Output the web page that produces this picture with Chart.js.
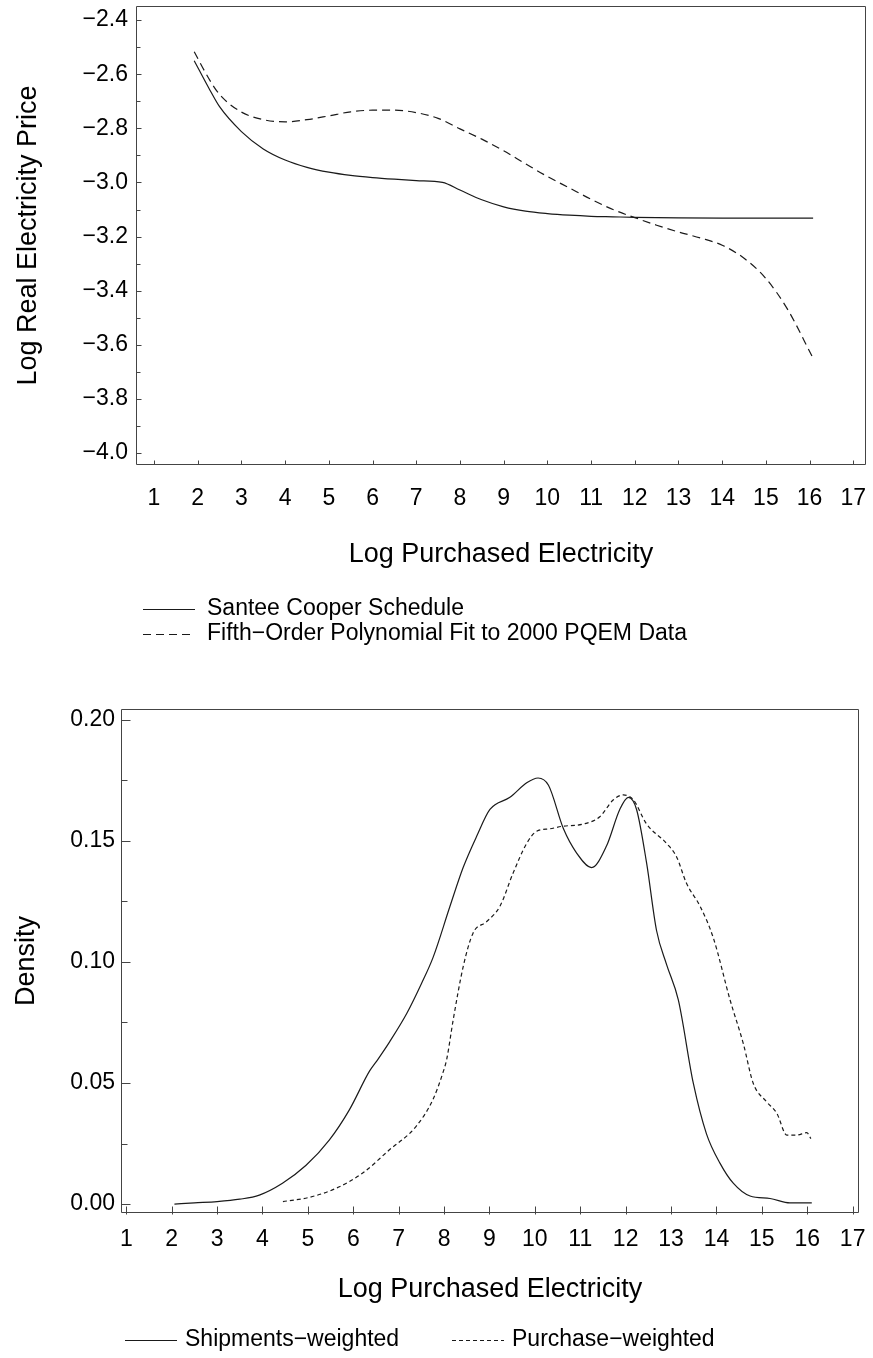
<!DOCTYPE html>
<html>
<head>
<meta charset="utf-8">
<script src="https://cdn.jsdelivr.net/npm/chart.js@4.4.1/dist/chart.umd.min.js"></script>
<style>
  html, body { margin: 0; padding: 0; background: #fff; }
  #wrap { position: relative; width: 873px; height: 1358px; }
  .panel { position: absolute; left: 0; width: 873px; }
  #top { top: 0; height: 670px; }
  #bottom { top: 670px; height: 688px; }
</style>
</head>
<body>
<div id="wrap">
  <div class="panel" id="top"><canvas id="priceChart" width="873" height="670"></canvas></div>
  <div class="panel" id="bottom"><canvas id="densityChart" width="873" height="688"></canvas></div>
</div>
<script>
// top panel - price schedules
const santeeX = [1.92, 2.25, 2.5, 3, 3.5, 4, 4.5, 5, 5.5, 6, 6.5, 7, 7.6, 8, 8.5, 9, 9.5, 10, 10.5, 11, 11.5, 12, 13, 14, 15, 16.08];
const santeeY = [-2.55, -2.65, -2.72, -2.812, -2.876, -2.917, -2.944, -2.962, -2.974, -2.982, -2.988, -2.993, -3.0, -3.028, -3.064, -3.09, -3.106, -3.115, -3.121, -3.125, -3.127, -3.129, -3.131, -3.132, -3.132, -3.132];
const pqemX = [1.92, 2.25, 2.5, 3, 3.5, 4, 4.5, 5, 5.5, 6, 6.5, 7, 7.5, 8, 8.5, 9, 9.5, 10, 10.5, 11, 11.5, 12, 12.5, 13, 13.5, 14, 14.5, 15, 15.5, 16.08];
const pqemY = [-2.517, -2.615, -2.675, -2.74, -2.768, -2.776, -2.768, -2.754, -2.739, -2.733, -2.733, -2.742, -2.763, -2.802, -2.84, -2.883, -2.931, -2.978, -3.02, -3.062, -3.1, -3.13, -3.158, -3.183, -3.205, -3.232, -3.28, -3.355, -3.47, -3.65];
const priceTicks = [-4.0, -3.8, -3.6, -3.4, -3.2, -3.0, -2.8, -2.6, -2.4];
const priceMinor = [-3.9, -3.7, -3.5, -3.3, -3.1, -2.9, -2.7, -2.5];
const quantityTicks = [1, 2, 3, 4, 5, 6, 7, 8, 9, 10, 11, 12, 13, 14, 15, 16, 17];

// bottom panel - kernel densities
const shipX = [2.06, 2.5, 3.0, 3.5, 3.93, 4.44, 4.96, 5.47, 5.91, 6.36, 6.55, 6.8, 7.18, 7.5, 7.76, 8.13, 8.42, 8.72, 9.01, 9.45, 9.82, 10.07, 10.3, 10.63, 10.92, 11.25, 11.58, 11.87, 12.06, 12.24, 12.46, 12.68, 12.9, 13.16, 13.49, 13.78, 14.08, 14.37, 14.74, 15.18, 15.62, 16.1];
const shipY = [0.0, 0.0005, 0.001, 0.002, 0.0037, 0.0086, 0.016, 0.0264, 0.0388, 0.055, 0.06, 0.067, 0.0788, 0.091, 0.102, 0.123, 0.139, 0.152, 0.163, 0.168, 0.174, 0.176, 0.173, 0.155, 0.145, 0.139, 0.148, 0.163, 0.168, 0.163, 0.141, 0.113, 0.099, 0.0843, 0.0499, 0.029, 0.0168, 0.0086, 0.0033, 0.0023, 0.0005, 0.0005];
const purchX = [4.45, 5.04, 5.62, 6.2, 6.79, 7.38, 7.75, 7.97, 8.06, 8.2, 8.42, 8.64, 8.94, 9.23, 9.52, 9.82, 10.04, 10.33, 10.59, 11.07, 11.43, 11.73, 11.95, 12.17, 12.46, 12.9, 13.12, 13.34, 13.64, 13.93, 14.3, 14.59, 14.81, 15.1, 15.33, 15.55, 15.77, 15.99, 16.08];
const purchY = [0.001, 0.0028, 0.0065, 0.0127, 0.0223, 0.032, 0.043, 0.054, 0.06, 0.076, 0.098, 0.112, 0.1167, 0.123, 0.1367, 0.149, 0.154, 0.155, 0.156, 0.157, 0.16, 0.167, 0.169, 0.167, 0.157, 0.149, 0.1435, 0.1325, 0.123, 0.11, 0.0843, 0.0664, 0.0499, 0.0423, 0.0375, 0.0285, 0.0285, 0.0295, 0.027];
const densityTicks = [0, 0.05, 0.10, 0.15, 0.20];
const densityMinor = [0.025, 0.075, 0.125, 0.175];

const FONT = "'Liberation Sans', Arial, sans-serif";
const tickFont = { family: FONT, size: 23 };
const titleFont = { family: FONT, size: 27 };
const INK = '#1a1a1a';

const pts = (xs, ys) => xs.map((x, i) => ({ x: x, y: ys[i] }));
const minus = s => s.replace('-', '\u2212');

// frame + inward tick marks (SAS style)
const frameTicks = {
    id: 'frameTicks',
    afterDatasetsDraw(chart, args, opts) {
        const { ctx, chartArea: a, scales: { x, y } } = chart;
        const L = Math.round(a.left) + 0.5, R = Math.round(a.right) - 0.5;
        const T = Math.round(a.top) + 0.5, B = Math.round(a.bottom) - 0.5;
        ctx.save();
        ctx.strokeStyle = opts.color;
        ctx.lineWidth = 1;
        ctx.beginPath();
        ctx.moveTo(L, T); ctx.lineTo(R, T); ctx.lineTo(R, B); ctx.lineTo(L, B); ctx.closePath();
        y.ticks.forEach(t => {
            const p = Math.round(y.getPixelForValue(t.value)) + 0.5;
            ctx.moveTo(L, p); ctx.lineTo(L + opts.yMajor, p);
        });
        opts.yMinorValues.forEach(v => {
            const p = Math.round(y.getPixelForValue(v)) + 0.5;
            ctx.moveTo(L, p); ctx.lineTo(L + opts.yMinor, p);
        });
        x.ticks.forEach(t => {
            const p = Math.round(x.getPixelForValue(t.value)) + 0.5;
            ctx.moveTo(p, B - opts.xIn); ctx.lineTo(p, B + opts.xOut);
        });
        ctx.stroke();
        ctx.restore();
    }
};

// legend drawn as line samples + text
const lineLegend = {
    id: 'lineLegend',
    afterDraw(chart, args, opts) {
        const ctx = chart.ctx;
        ctx.save();
        ctx.font = opts.font;
        ctx.fillStyle = '#000';
        ctx.textBaseline = 'middle';
        chart.data.datasets.forEach((ds, i) => {
            const it = opts.items[i];
            ctx.strokeStyle = ds.borderColor;
            ctx.lineWidth = 1;
            ctx.setLineDash(ds.borderDash || []);
            ctx.beginPath();
            ctx.moveTo(it.x, it.y + 0.5);
            ctx.lineTo(it.x + opts.sample, it.y + 0.5);
            ctx.stroke();
            ctx.setLineDash([]);
            ctx.fillText(ds.label, it.x + opts.sample + opts.gap, it.y);
        });
        ctx.restore();
    }
};

function noPad(s) {
    s.paddingTop = 0; s.paddingBottom = 0; s.paddingLeft = 0; s.paddingRight = 0;
}

function makeChart(id, cfg) {
    return new Chart(document.getElementById(id).getContext('2d'), {
        type: 'line',
        data: { datasets: cfg.datasets },
        options: {
            responsive: false,
            animation: false,
            events: [],
            layout: { padding: cfg.padding },
            elements: { point: { radius: 0 }, line: { cubicInterpolationMode: 'monotone', borderWidth: 1.2 } },
            plugins: {
                legend: { display: false },
                tooltip: { enabled: false },
                frameTicks: cfg.frame,
                lineLegend: cfg.legend
            },
            scales: {
                x: {
                    type: 'linear',
                    min: cfg.xMin,
                    max: cfg.xMax,
                    afterBuildTicks: s => { s.ticks = quantityTicks.map(v => ({ value: v })); },
                    grid: { display: false, drawTicks: false },
                    border: { display: false },
                    ticks: { font: tickFont, color: '#000', padding: cfg.xTickPad, maxRotation: 0, autoSkip: false, callback: v => String(v) },
                    title: { display: true, text: 'Log Purchased Electricity', font: titleFont, color: '#000', padding: 0 },
                    afterFit: s => { s.height = cfg.xHeight; noPad(s); }
                },
                y: {
                    type: 'linear',
                    min: cfg.yMin,
                    max: cfg.yMax,
                    afterBuildTicks: s => { s.ticks = cfg.yTicks.map(v => ({ value: v })); },
                    grid: { display: false, drawTicks: false },
                    border: { display: false },
                    ticks: { font: tickFont, color: '#000', padding: cfg.yTickPad, autoSkip: false, callback: cfg.yLabel },
                    title: { display: true, text: cfg.yTitle, font: titleFont, color: '#000', padding: { top: cfg.yTitlePad, bottom: 0 } },
                    afterFit: s => { s.width = cfg.yWidth; noPad(s); }
                }
            }
        },
        plugins: [frameTicks, lineLegend]
    });
}

Chart.defaults.font.family = FONT;

makeChart('priceChart', {
    datasets: [
        { label: 'Santee Cooper Schedule', data: pts(santeeX, santeeY), borderColor: INK, borderWidth: 1.2 },
        { label: 'Fifth\u2212Order Polynomial Fit to 2000 PQEM Data', data: pts(pqemX, pqemY), borderColor: INK, borderWidth: 1.2, borderDash: [8, 5] }
    ],
    padding: { left: 0, right: 7, top: 6, bottom: 99 },
    xMin: 0.588, xMax: 17.29,
    yMin: -4.044, yMax: -2.348,
    yTicks: priceTicks,
    yLabel: v => minus(v.toFixed(1)),
    yTitle: 'Log Real Electricity Price',
    yWidth: 136, yTickPad: 8, yTitlePad: 12,
    xHeight: 106, xTickPad: 20,
    frame: { color: '#444', yMajor: 5, yMinor: 4, yMinorValues: priceMinor, xIn: 4, xOut: 0 },
    legend: { font: "23px " + FONT, sample: 52, gap: 12, items: [{ x: 143, y: 609 }, { x: 143, y: 634 }] }
});

makeChart('densityChart', {
    datasets: [
        { label: 'Shipments\u2212weighted', data: pts(shipX, shipY), borderColor: INK, borderWidth: 1.2 },
        { label: 'Purchase\u2212weighted', data: pts(purchX, purchY), borderColor: INK, borderWidth: 1.2, borderDash: [4, 3] }
    ],
    padding: { left: 0, right: 14, top: 39, bottom: 52 },
    xMin: 0.883, xMax: 17.14,
    yMin: -0.0037, yMax: 0.2045,
    yTicks: densityTicks,
    yLabel: v => v.toFixed(2),
    yTitle: 'Density',
    yWidth: 121, yTickPad: 6, yTitlePad: 10,
    xHeight: 93, xTickPad: 13,
    frame: { color: '#444', yMajor: 9, yMinor: 6, yMinorValues: densityMinor, xIn: 6, xOut: 2 },
    legend: { font: "23px " + FONT, sample: 52, gap: 8, items: [{ x: 125, y: 670 }, { x: 452, y: 670 }] }
});
</script>
</body>
</html>
